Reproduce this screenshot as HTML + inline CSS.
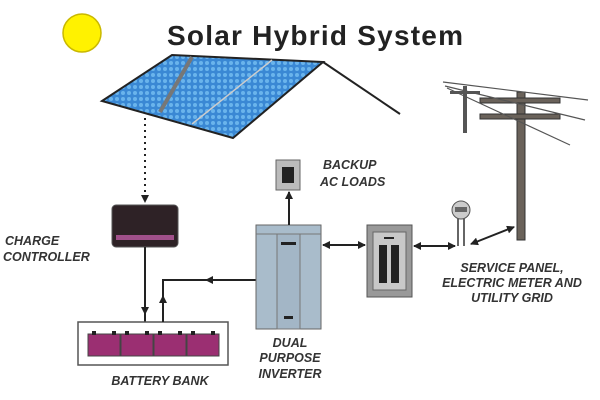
<!DOCTYPE html>
<html><head><style>
html,body{margin:0;padding:0;background:#fff;}
svg{display:block;}
.l{font-family:"Liberation Sans",sans-serif;font-weight:bold;font-style:italic;font-size:12.5px;fill:#333;}
</style></head><body>
<svg width="600" height="400" viewBox="0 0 600 400" xmlns="http://www.w3.org/2000/svg">
<defs>
<marker id="a" markerWidth="8" markerHeight="8" refX="7" refY="4" orient="auto" markerUnits="userSpaceOnUse"><path d="M0,0 L8,4 L0,8 z" fill="#222"/></marker>
<marker id="s" markerWidth="8" markerHeight="8" refX="1" refY="4" orient="auto" markerUnits="userSpaceOnUse"><path d="M8,0 L0,4 L8,8 z" fill="#222"/></marker>
<pattern id="cells" width="6" height="6" patternUnits="userSpaceOnUse"><rect width="6" height="6" fill="#3a88d4"/><circle cx="3" cy="3" r="2" fill="#6ab4ec"/></pattern>
</defs>
<circle cx="82" cy="33" r="19" fill="#fff200" stroke="#c9b800" stroke-width="1.5"/>
<text x="315" y="45" text-anchor="middle" font-family="Liberation Sans,sans-serif" font-weight="bold" font-size="28" fill="#222" textLength="296" lengthAdjust="spacing">Solar Hybrid System</text>
<!-- roof -->
<polygon points="102,101 172,55 323,62 233,138" fill="url(#cells)" stroke="#222" stroke-width="2"/>
<line x1="192" y1="57" x2="160" y2="112" stroke="#777" stroke-width="4"/>
<line x1="272" y1="60" x2="192" y2="124" stroke="#ccc" stroke-width="1.5"/>
<line x1="323" y1="62" x2="400" y2="114" stroke="#222" stroke-width="2"/>
<line x1="145" y1="118" x2="145" y2="202" stroke="#222" stroke-width="2" stroke-dasharray="2,4" marker-end="url(#a)"/>
<!-- charge controller -->
<rect x="112" y="205" width="66" height="42" rx="4" fill="#2e2226" stroke="#555"/>
<rect x="116" y="235" width="58" height="5" fill="#a0508a"/>
<line x1="145" y1="247" x2="145" y2="314" stroke="#222" stroke-width="2" marker-end="url(#a)"/>
<line x1="145" y1="314" x2="145" y2="322" stroke="#222" stroke-width="2"/>
<text class="l" x="5" y="245">CHARGE</text>
<text class="l" x="3" y="261">CONTROLLER</text>
<!-- battery -->
<rect x="78" y="322" width="150" height="43" fill="#fff" stroke="#555" stroke-width="1.5"/>
<g fill="#9b2f72" stroke="#444" stroke-width="1">
<rect x="88" y="334" width="32" height="22"/><rect x="121" y="334" width="32" height="22"/><rect x="154" y="334" width="32" height="22"/><rect x="187" y="334" width="32" height="22"/>
</g>
<g fill="#222"><rect x="92" y="331" width="4" height="4"/><rect x="112" y="331" width="4" height="4"/><rect x="125" y="331" width="4" height="4"/><rect x="145" y="331" width="4" height="4"/><rect x="158" y="331" width="4" height="4"/><rect x="178" y="331" width="4" height="4"/><rect x="191" y="331" width="4" height="4"/><rect x="211" y="331" width="4" height="4"/></g>
<text class="l" x="160" y="385" text-anchor="middle">BATTERY BANK</text>
<polyline points="256,280 163,280 163,322" fill="none" stroke="#222" stroke-width="2"/>
<line x1="163" y1="322" x2="163" y2="296" stroke="#222" stroke-width="2" marker-end="url(#a)"/>
<line x1="240" y1="280" x2="206" y2="280" stroke="#222" stroke-width="2" marker-end="url(#a)"/>
<!-- inverter -->
<rect x="256" y="225" width="65" height="104" fill="#a9bccb" stroke="#666"/>
<line x1="256" y1="234" x2="321" y2="234" stroke="#777"/>
<rect x="277" y="234" width="23" height="95" fill="#a3b6c6" stroke="#777"/>
<rect x="281" y="242" width="15" height="3" fill="#222"/>
<rect x="284" y="316" width="9" height="3" fill="#222"/>
<text class="l" x="290" y="347" text-anchor="middle">DUAL</text>
<text class="l" x="290" y="362" text-anchor="middle">PURPOSE</text>
<text class="l" x="290" y="378" text-anchor="middle">INVERTER</text>
<line x1="289" y1="225" x2="289" y2="192" stroke="#222" stroke-width="2" marker-end="url(#a)"/>
<rect x="276" y="160" width="24" height="30" fill="#bbb" stroke="#666"/>
<rect x="282" y="167" width="12" height="16" fill="#222"/>
<text class="l" x="323" y="169">BACKUP</text>
<text class="l" x="320" y="186">AC LOADS</text>
<line x1="323" y1="245" x2="365" y2="245" stroke="#222" stroke-width="2" marker-start="url(#s)" marker-end="url(#a)"/>
<!-- service panel -->
<rect x="367" y="225" width="45" height="72" fill="#999" stroke="#555"/>
<rect x="373" y="232" width="33" height="58" fill="#c8c8c8" stroke="#666"/>
<rect x="384" y="237" width="10" height="2" fill="#222"/>
<rect x="379" y="245" width="8" height="38" fill="#222"/><rect x="391" y="245" width="8" height="38" fill="#222"/>
<line x1="414" y1="246" x2="455" y2="246" stroke="#222" stroke-width="2" marker-start="url(#s)" marker-end="url(#a)"/>
<line x1="458" y1="218" x2="458" y2="246" stroke="#333" stroke-width="1.5"/>
<line x1="464" y1="218" x2="464" y2="246" stroke="#333" stroke-width="1.5"/>
<circle cx="461" cy="210" r="9" fill="#ccc" stroke="#555"/>
<rect x="455" y="207" width="12" height="5" fill="#666"/>
<line x1="471" y1="244" x2="514" y2="227" stroke="#222" stroke-width="2" marker-start="url(#s)" marker-end="url(#a)"/>
<!-- poles -->
<rect x="517" y="92" width="8" height="148" fill="#6a625a" stroke="#333"/>
<rect x="480" y="98" width="80" height="5" fill="#6a625a" stroke="#333"/>
<rect x="480" y="114" width="80" height="5" fill="#6a625a" stroke="#333"/>
<rect x="463" y="86" width="4" height="47" fill="#555"/>
<rect x="450" y="91" width="30" height="3" fill="#555"/>
<g stroke="#555" stroke-width="1.2" fill="none">
<line x1="443" y1="82" x2="588" y2="100"/><line x1="445" y1="86" x2="585" y2="120"/><line x1="447" y1="88" x2="570" y2="145"/>
</g>
<text class="l" x="512" y="272" text-anchor="middle">SERVICE PANEL,</text>
<text class="l" x="512" y="287" text-anchor="middle">ELECTRIC METER AND</text>
<text class="l" x="512" y="302" text-anchor="middle">UTILITY GRID</text>
</svg>
</body></html>
